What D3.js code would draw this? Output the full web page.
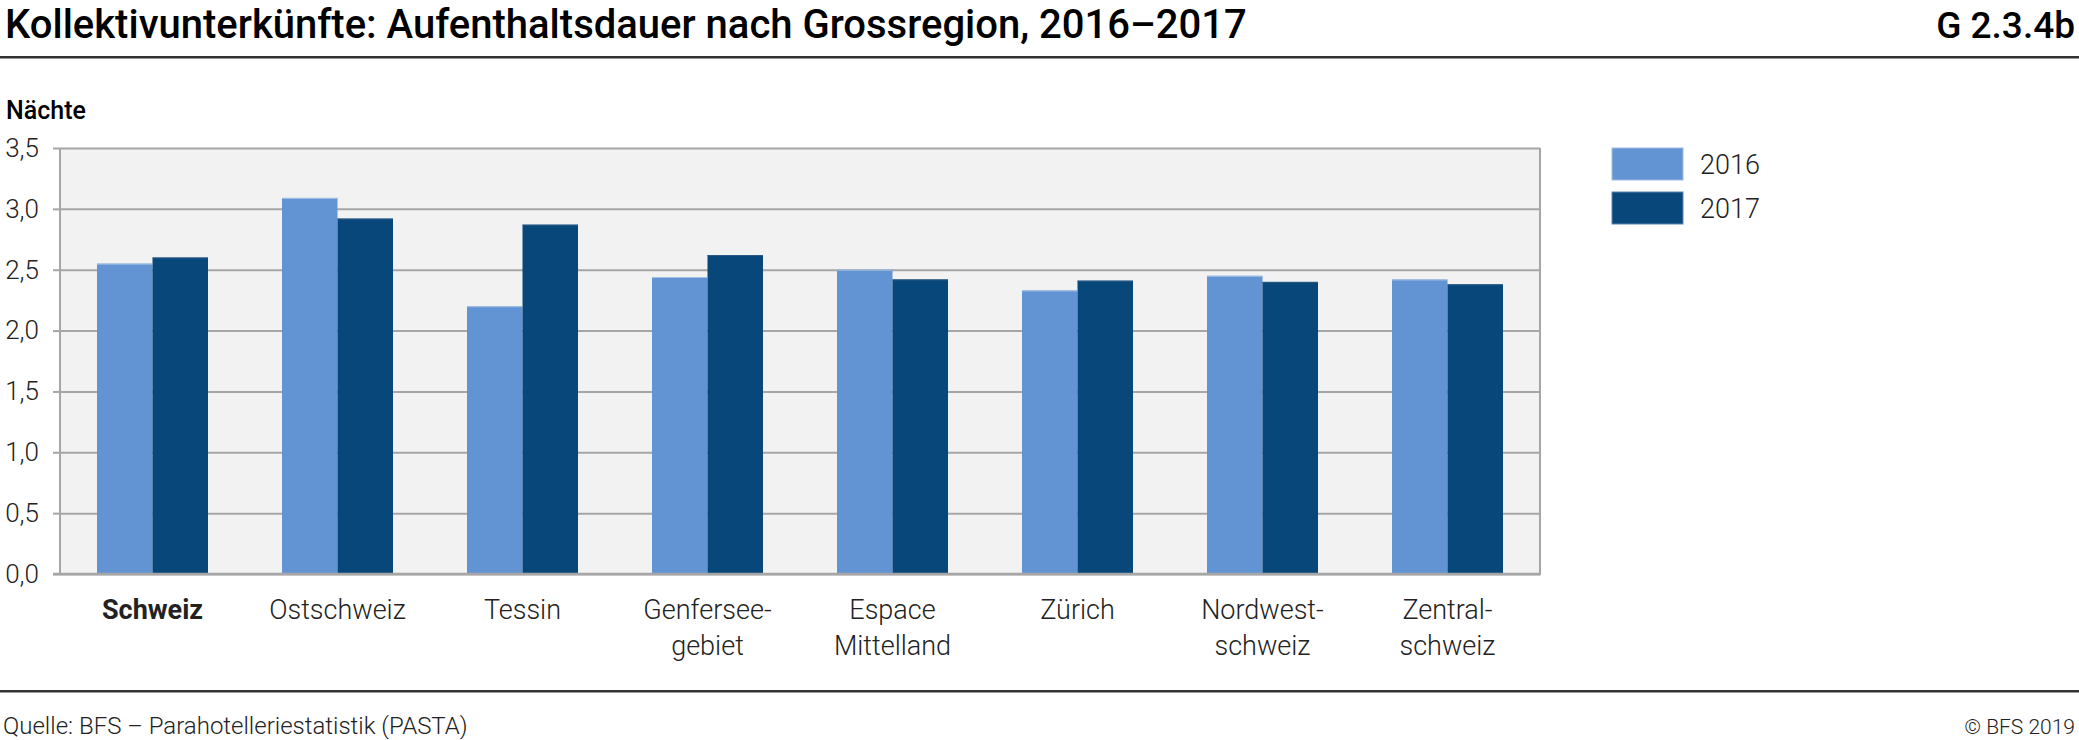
<!DOCTYPE html>
<html><head><meta charset="utf-8">
<script src="https://cdn.jsdelivr.net/npm/d3@7"></script>
<style>
body{margin:0;background:#fff;}
svg{display:block;font-family:Roboto, "Noto Sans", sans-serif;}
</style></head>
<body><svg id="c" width="2079" height="740"></svg>
<script>
const categories = ["Schweiz","Ostschweiz","Tessin","Genfersee-|gebiet","Espace|Mittelland","Zürich","Nordwest-|schweiz","Zentral-|schweiz"];
const series = ["2016","2017"];
const values2016 = [2.55, 3.09, 2.20, 2.44, 2.50, 2.33, 2.45, 2.42];
const values2017 = [2.60, 2.92, 2.87, 2.62, 2.42, 2.41, 2.40, 2.38];
const yTicks = [0,0.5,1,1.5,2,2.5,3,3.5];
const colors = ["#6294d3","#08477a"];

const svg = d3.select("#c");
const W = 2079;
const plot = {l:60, r:1540, t:148, b:574};

// Title
svg.append("text").attr("x",5).attr("y",38).attr("font-size",40).attr("font-weight",500)
  .attr("fill","#000").text("Kollektivunterkünfte: Aufenthaltsdauer nach Grossregion, 2016–2017");
svg.append("text").attr("x",2075).attr("y",38).attr("font-size",37).attr("font-weight",500)
  .attr("text-anchor","end").attr("fill","#000").text("G 2.3.4b");
svg.append("rect").attr("x",0).attr("y",56).attr("width",W).attr("height",2.5).attr("fill","#333");

// y label
svg.append("text").attr("x",6).attr("y",119).attr("font-size",25).attr("font-weight",500).text("Nächte");

const x0 = d3.scaleBand().domain(d3.range(categories.length)).range([plot.l, plot.r]).paddingInner(0.4).paddingOuter(0.2);
const x1 = d3.scaleBand().domain(series).range([0, x0.bandwidth()]);
const y = d3.scaleLinear().domain([0,3.5]).range([plot.b, plot.t]);

svg.append("rect").attr("x",plot.l).attr("y",plot.t).attr("width",plot.r-plot.l).attr("height",plot.b-plot.t).attr("fill","#f2f2f2");

// grid
const yAxis = d3.axisLeft(y).tickValues(yTicks).tickSize(-(plot.r-plot.l)).tickPadding(21)
  .tickFormat(d => d3.format(".1f")(d).replace(".",","));
const gy = svg.append("g").attr("transform",`translate(${plot.l},0)`).call(yAxis);
gy.select(".domain").remove();
gy.selectAll(".tick line").attr("stroke","#a6a6a6").attr("stroke-width",2);
gy.selectAll(".tick").append("line").attr("x1",-7).attr("x2",0).attr("stroke","#a6a6a6").attr("stroke-width",2);
gy.selectAll(".tick text").attr("font-size",26).attr("fill","#222").attr("font-weight",300).attr("font-family","Roboto");
// plot border left/right
svg.append("line").attr("x1",plot.l).attr("x2",plot.l).attr("y1",plot.t).attr("y2",plot.b).attr("stroke","#a6a6a6").attr("stroke-width",2);
svg.append("line").attr("x1",plot.r).attr("x2",plot.r).attr("y1",plot.t).attr("y2",plot.b+1).attr("stroke","#a6a6a6").attr("stroke-width",2);

// bars
const data = categories.map((c,i)=>({i, vals:[values2016[i], values2017[i]]}));
const g = svg.append("g").selectAll("g").data(data).join("g").attr("transform",d=>`translate(${x0(d.i)},0)`);
g.selectAll("rect").data(d=>d.vals.map((v,k)=>({k,v}))).join("rect")
  .attr("x",d=>x1(series[d.k])).attr("width",x1.bandwidth())
  .attr("y",d=>y(d.v)).attr("height",d=>y(0)-y(d.v))
  .attr("fill",d=>colors[d.k]);
// top highlight
g.selectAll("line.hl").data(d=>d.vals.map((v,k)=>({k,v}))).join("line").attr("class","hl")
  .attr("x1",d=>x1(series[d.k])).attr("x2",d=>x1(series[d.k])+x1.bandwidth())
  .attr("y1",d=>y(d.v)+0.5).attr("y2",d=>y(d.v)+0.5)
  .attr("stroke",d=>d.k===0?"#a5c0e3":"#2a5a85").attr("stroke-width",1);

// baseline
svg.append("line").attr("x1",plot.l-7).attr("x2",plot.r+1).attr("y1",plot.b).attr("y2",plot.b).attr("stroke","#a6a6a6").attr("stroke-width",2.5);

// x labels
const xl = svg.append("g").selectAll("text").data(categories).join("text")
  .attr("x",(d,i)=>x0(i)+x0.bandwidth()/2).attr("y",619).attr("text-anchor","middle")
  .attr("font-size",27).attr("fill","#222")
  .attr("font-weight",(d,i)=>i===0?700:300);
xl.each(function(d){
  const parts = d.split("|");
  d3.select(this).selectAll("tspan").data(parts).join("tspan")
    .attr("x",d3.select(this).attr("x")).attr("dy",(p,j)=>j===0?0:36).text(p=>p);
});

// legend
const lg = svg.append("g");
series.forEach((s,k)=>{
  lg.append("rect").attr("x",1612).attr("y",148+k*44).attr("width",71).attr("height",32)
    .attr("fill",colors[k]).attr("stroke",k===0?"#9dbbe3":"#5a86b3").attr("stroke-width",1);
  lg.append("text").attr("x",1700).attr("y",174+k*44).attr("font-size",27).attr("font-weight",300).attr("fill","#222").text(s);
});

// footer
svg.append("rect").attr("x",0).attr("y",690).attr("width",W).attr("height",2.5).attr("fill","#333");
svg.append("text").attr("x",3).attr("y",734).attr("font-size",24).attr("font-weight",300).attr("fill","#222").text("Quelle: BFS – Parahotelleriestatistik (PASTA)");
svg.append("text").attr("x",2075).attr("y",734).attr("font-size",21).attr("font-weight",300).attr("text-anchor","end").attr("fill","#222").text("© BFS 2019");
</script></body></html>
